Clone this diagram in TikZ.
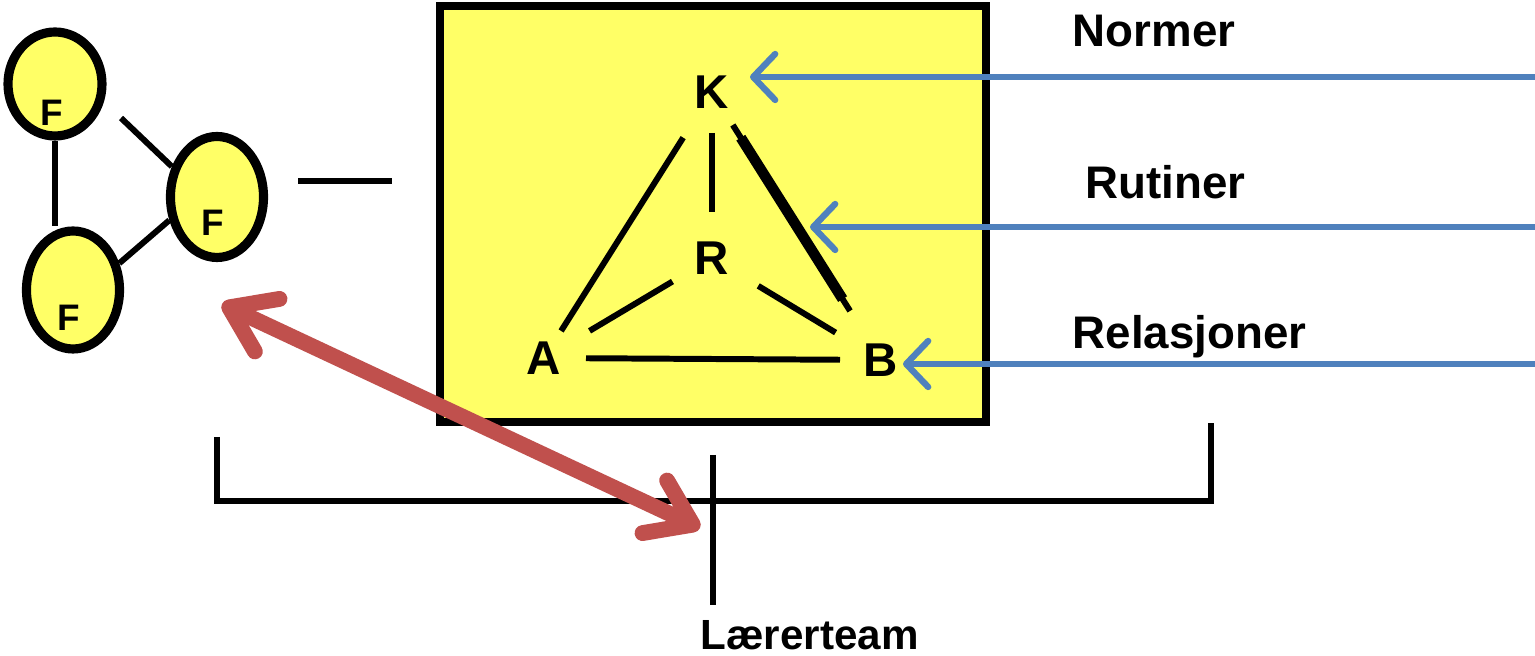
\documentclass[tikz,border=0pt]{standalone}
\usepackage{fontspec}
\setmainfont{Liberation Sans}
\usetikzlibrary{arrows.meta,shapes.geometric}
\definecolor{teamyellow}{HTML}{FFFF66}
\definecolor{pushblue}{HTML}{4F81BD}
\definecolor{tiered}{HTML}{C0504D}

\begin{document}
\begin{tikzpicture}
    [
        letter/.style={circle, minimum size=0.6cm, inner sep=0pt, outer sep=0pt, font=\fontsize{13.5}{16}\selectfont\bfseries},
        member/.style={ellipse, draw, line width=2.6pt, fill=teamyellow, inner sep=0pt},
        flabel/.style={font=\fontsize{10.5}{12}\selectfont\bfseries},
        tag/.style={anchor=base west, inner sep=0pt, font=\fontsize{13}{15}\selectfont\bfseries},
        link/.style={line width=1.7pt},
        push/.style={line width=1.8pt, pushblue, -{Straight Barb[length=2.2mm, width=4.6mm, round]}},
        tie/.style={line width=4.5pt, tiered, {Straight Barb[length=4.2mm, width=5.8mm, round]}-{Straight Barb[length=4.2mm, width=5.8mm, round]}},
    ]
    \useasboundingbox (0,0) rectangle (15.35,-6.56);

    % team box
    \draw [line width=2.1pt, fill=teamyellow] (4.40,-0.06) rectangle (9.86,-4.22);

    % K R A B
    \node (k) at (7.12,-0.92) [letter] {K};
    \node (r) at (7.12,-2.58) [letter] {R};
    \node (a) at (5.44,-3.58) [letter] {A};
    \node (b) at (8.81,-3.60) [letter] {B};
    \draw [link, shorten <=0.02cm, shorten >=0.24cm] (a) -- (k);
    \draw [link, shorten <=0.11cm, shorten >=0.16cm] (k) -- (r);
    \draw [link, shorten <=0.16cm, shorten >=0.23cm] (r) -- (a);
    \draw [link, shorten <=0.24cm, shorten >=0.23cm] (r) -- (b);
    \draw [link, shorten <=0.12cm, shorten >=0.11cm] (a) -- (b);
    \draw [link, shorten <=0.09cm, shorten >=0.28cm] (k) -- (b);
    \draw [line width=3pt, xshift=0.03cm, shorten <=0.24cm, shorten >=0.42cm] (k) -- (b);

    % members
    \node (f1) at (0.55,-0.84) [member, minimum width=0.94cm, minimum height=1.04cm] {};
    \node (f2) at (2.17,-1.97) [member, minimum width=0.93cm, minimum height=1.21cm] {};
    \node (f3) at (0.73,-2.90) [member, minimum width=0.93cm, minimum height=1.18cm] {};
    \node (l1) at (0.52,-1.13) [flabel] {F};
    \node (l2) at (2.13,-2.23) [flabel] {F};
    \node (l3) at (0.69,-3.18) [flabel] {F};
    \coordinate (c12) at (1.21,-1.18);
    \draw [link] (f1.south) -- (f1.south |- f3.north);
    \draw [link] (c12) -- (f2.146);
    \draw [link] (f3.30) -- (f2.206);
    \coordinate (s1) at (2.98,-1.81);
    \coordinate (s2) at (3.92,-1.81);
    \draw [link] (s1) -- (s2);

    % influences
    \node (normer) at (10.72,-0.47) [tag] {Normer};
    \node (rutiner) at (10.85,-1.99) [tag] {Rutiner};
    \node (relasjoner) at (10.72,-3.49) [tag] {Relasjoner};
    \coordinate (nin) at (15.35,-0.77);
    \coordinate (rin) at (15.35,-2.27);
    \coordinate (lin) at (15.35,-3.64);
    \coordinate (kb) at (8.10,-2.27);
    \draw [push, shorten >=0.08cm] (nin) -- (nin -| k.east);
    \draw [push] (rin) -- (kb);
    \draw [push, shorten >=-0.08cm] (lin) -- (lin -| b.east);

    % bracket
    \coordinate (bl) at (2.17,-4.37);
    \coordinate (blb) at (2.17,-5.01);
    \coordinate (brb) at (12.11,-5.01);
    \coordinate (br) at (12.11,-4.23);
    \draw [link] (bl) -- (blb) -- (brb) -- (br);
    \coordinate (mt) at (7.13,-4.55);
    \coordinate (mb) at (7.13,-6.05);
    \draw [link] (mt) -- (mb);
    \node (team) at (7.00,-6.50) [tag, font=\fontsize{12}{14}\selectfont\bfseries] {Lærerteam};

    % team to members
    \coordinate (ts) at (2.22,-3.04);
    \coordinate (te) at (7.00,-5.28);
    \draw [tie] (ts) -- (te);
\end{tikzpicture}
\end{document}
